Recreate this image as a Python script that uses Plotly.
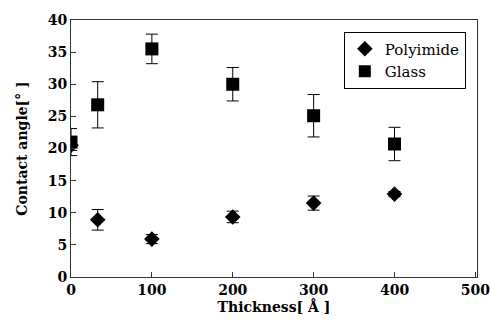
import plotly.graph_objects as go

thickness = [0, 33, 100, 200, 300, 400]
polyimide = [20.5, 8.9, 5.9, 9.35, 11.5, 12.9]
polyimide_err = [0.8, 1.6, 0.7, 0.9, 1.1, 0.4]
glass = [21.0, 26.8, 35.5, 30.0, 25.1, 20.7]
glass_err = [2.1, 3.6, 2.3, 2.6, 3.3, 2.6]

x_ticks = [0, 100, 200, 300, 400, 500]
y_ticks = [0, 5, 10, 15, 20, 25, 30, 35, 40]

serif = "DejaVu Serif"

fig = go.Figure()
fig.add_trace(go.Scatter(
    x=thickness, y=polyimide, mode="markers", name="Polyimide",
    marker=dict(symbol="diamond", size=12, color="black"),
    error_y=dict(type="data", array=polyimide_err, color="black", thickness=1, width=6),
))
fig.add_trace(go.Scatter(
    x=thickness, y=glass, mode="markers", name="Glass",
    marker=dict(symbol="square", size=13, color="black"),
    error_y=dict(type="data", array=glass_err, color="black", thickness=1, width=6),
))

fig.update_layout(
    width=491, height=320,
    margin=dict(l=71, r=14, t=20, b=43, autoexpand=False),
    paper_bgcolor="white", plot_bgcolor="white",
    showlegend=True,
    legend=dict(
        x=0.672, y=0.955, xanchor="left", yanchor="top",
        bgcolor="white", bordercolor="black", borderwidth=1,
        font=dict(family=serif, size=15, color="black"),
        itemsizing="constant", tracegroupgap=0, itemwidth=30,
    ),
)
fig.update_xaxes(
    range=[0, 502], tickvals=x_ticks, ticktext=["<b>%d</b>" % v for v in x_ticks],
    showgrid=False, zeroline=False, automargin=False,
    showline=True, linecolor="#333", linewidth=1, mirror=True,
    ticks="inside", ticklen=5, tickcolor="#333",
    ticklabeloverflow="allow",
    tickfont=dict(family=serif, size=14, color="black"),
    title=dict(text="<b>Thickness[ Å ]</b>", font=dict(family=serif, size=14, color="black"), standoff=4),
)
fig.update_yaxes(
    range=[0, 40], tickvals=y_ticks, ticktext=["<b>%d</b>" % v for v in y_ticks],
    showgrid=False, zeroline=False, automargin=False,
    showline=True, linecolor="#333", linewidth=1, mirror=True,
    ticks="inside", ticklen=5, tickcolor="#333",
    tickfont=dict(family=serif, size=14, color="black"),
    title=dict(text="<b>Contact angle[° ]</b>", font=dict(family=serif, size=14, color="black"), standoff=16),
)

fig.write_html("out.html")
